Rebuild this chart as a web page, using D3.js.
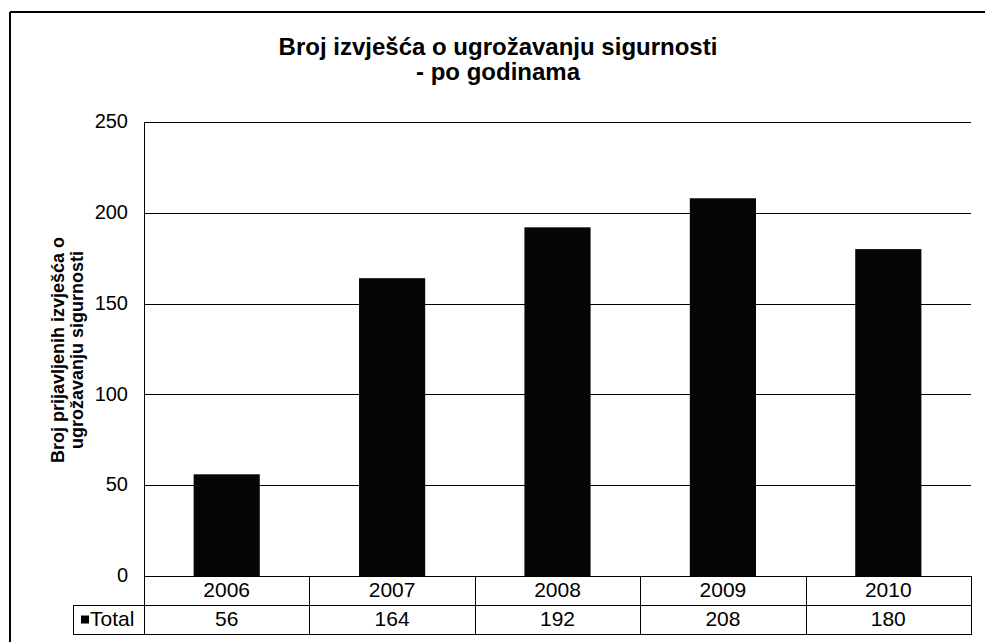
<!DOCTYPE html>
<html>
<head>
<meta charset="utf-8">
<style>
    body { margin: 0; background: #fff; }
    svg { display: block; }
    text { font-family: "Liberation Sans", Arial, sans-serif; fill: #000; }
    .title { font-size: 24px; font-weight: bold; text-anchor: middle; }
    .ylabel { font-size: 18px; font-weight: bold; text-anchor: middle; }
    .tick-label { font-size: 20px; text-anchor: end; dominant-baseline: middle; }
    .cell { font-size: 21px; text-anchor: middle; dominant-baseline: middle; }
    line.grid { stroke: #000; stroke-width: 1; }
</style>
<script src="https://cdn.jsdelivr.net/npm/d3@7"></script>
</head>
<body>
<div id="chart"></div>
<script>
    var years = ["2006", "2007", "2008", "2009", "2010"];
    var totals = [56, 164, 192, 208, 180];
    var yTicks = [0, 50, 100, 150, 200, 250];
    var seriesName = "Total";
    var titleLines = ["Broj izvješća o ugrožavanju sigurnosti", "- po godinama"];
    var yLabelLines = ["Broj prijavljenih  izvješća o", "ugrožavanju sigurnosti"];

    var width = 985, height = 642;
    var plot_l = 144, plot_r = 971, plot_t = 122, plot_b = 576;
    var row_h = 29;

    var svg = d3.select("#chart").append("svg")
        .attr("width", width).attr("height", height);

    // chart frame (only top + left visible in the scan)
    svg.append("line").attr("x1", 10).attr("x2", width).attr("y1", 12).attr("y2", 12)
        .attr("stroke", "#000").attr("stroke-width", 2);
    svg.append("line").attr("x1", 10).attr("x2", 10).attr("y1", 12).attr("y2", height)
        .attr("stroke", "#000").attr("stroke-width", 2);

    // title
    svg.append("text").attr("class", "title")
        .selectAll("tspan").data(titleLines).enter().append("tspan")
        .attr("x", 498).attr("y", function(d, i) { return 55 + i * 25; })
        .text(function(d) { return d; });

    var x = d3.scaleBand().domain(years).range([plot_l, plot_r]).paddingInner(0.6).paddingOuter(0.3);
    var xCol = d3.scaleBand().domain(years).range([plot_l, plot_r]);
    var y = d3.scaleLinear().domain([0, 250]).range([plot_b, plot_t]);

    // gridlines
    svg.append("g").selectAll("line").data(yTicks).enter().append("line")
        .attr("class", "grid")
        .attr("x1", plot_l).attr("x2", plot_r)
        .attr("y1", function(d) { return Math.round(y(d)) + 0.5; })
        .attr("y2", function(d) { return Math.round(y(d)) + 0.5; });

    // y axis line
    svg.append("line").attr("x1", plot_l + 0.5).attr("x2", plot_l + 0.5)
        .attr("y1", plot_t).attr("y2", plot_b + 2 * row_h)
        .attr("stroke", "#000");

    // tick labels
    svg.append("g").selectAll("text").data(yTicks).enter().append("text")
        .attr("class", "tick-label")
        .attr("x", 128).attr("y", function(d) { return y(d) + 1; })
        .text(function(d) { return d; });

    // y axis title
    svg.append("text").attr("class", "ylabel")
        .attr("transform", "translate(0,350) rotate(-90)")
        .selectAll("tspan").data(yLabelLines).enter().append("tspan")
        .attr("x", 0).attr("y", function(d, i) { return 64 + i * 19; })
        .text(function(d) { return d; });

    // bars
    svg.append("g").selectAll("rect").data(totals).enter().append("rect")
        .attr("x", function(d, i) { return x(years[i]); })
        .attr("width", x.bandwidth())
        .attr("y", function(d) { return y(d); })
        .attr("height", function(d) { return y(0) - y(d); })
        .attr("fill", "#050505");

    // data table
    var table = svg.append("g").attr("fill", "none").attr("stroke", "#000");
    table.append("rect").attr("x", plot_l + 0.5).attr("y", plot_b + 0.5)
        .attr("width", plot_r - plot_l).attr("height", 2 * row_h);
    table.append("line").attr("x1", 73).attr("x2", plot_r)
        .attr("y1", plot_b + row_h + 0.5).attr("y2", plot_b + row_h + 0.5);
    table.append("rect").attr("x", 73.5).attr("y", plot_b + row_h + 0.5)
        .attr("width", plot_l - 73).attr("height", row_h);
    table.selectAll("line.col").data(years.slice(1)).enter().append("line")
        .attr("class", "col")
        .attr("x1", function(d) { return Math.round(xCol(d)) + 0.5; })
        .attr("x2", function(d) { return Math.round(xCol(d)) + 0.5; })
        .attr("y1", plot_b).attr("y2", plot_b + 2 * row_h);

    svg.append("g").selectAll("text").data(years).enter().append("text")
        .attr("class", "cell")
        .attr("x", function(d) { return xCol(d) + xCol.bandwidth() / 2; })
        .attr("y", plot_b + row_h / 2 + 1)
        .text(function(d) { return d; });

    svg.append("g").selectAll("text").data(totals).enter().append("text")
        .attr("class", "cell")
        .attr("x", function(d, i) { return xCol(years[i]) + xCol.bandwidth() / 2; })
        .attr("y", plot_b + row_h * 1.5 + 1)
        .text(function(d) { return d; });

    // legend key in table
    svg.append("rect").attr("x", 81).attr("y", plot_b + row_h * 1.5 - 4)
        .attr("width", 8).attr("height", 8).attr("fill", "#000");
    svg.append("text").attr("class", "cell").style("text-anchor", "start")
        .attr("x", 90).attr("y", plot_b + row_h * 1.5 + 1)
        .text(seriesName);
</script>
</body>
</html>
